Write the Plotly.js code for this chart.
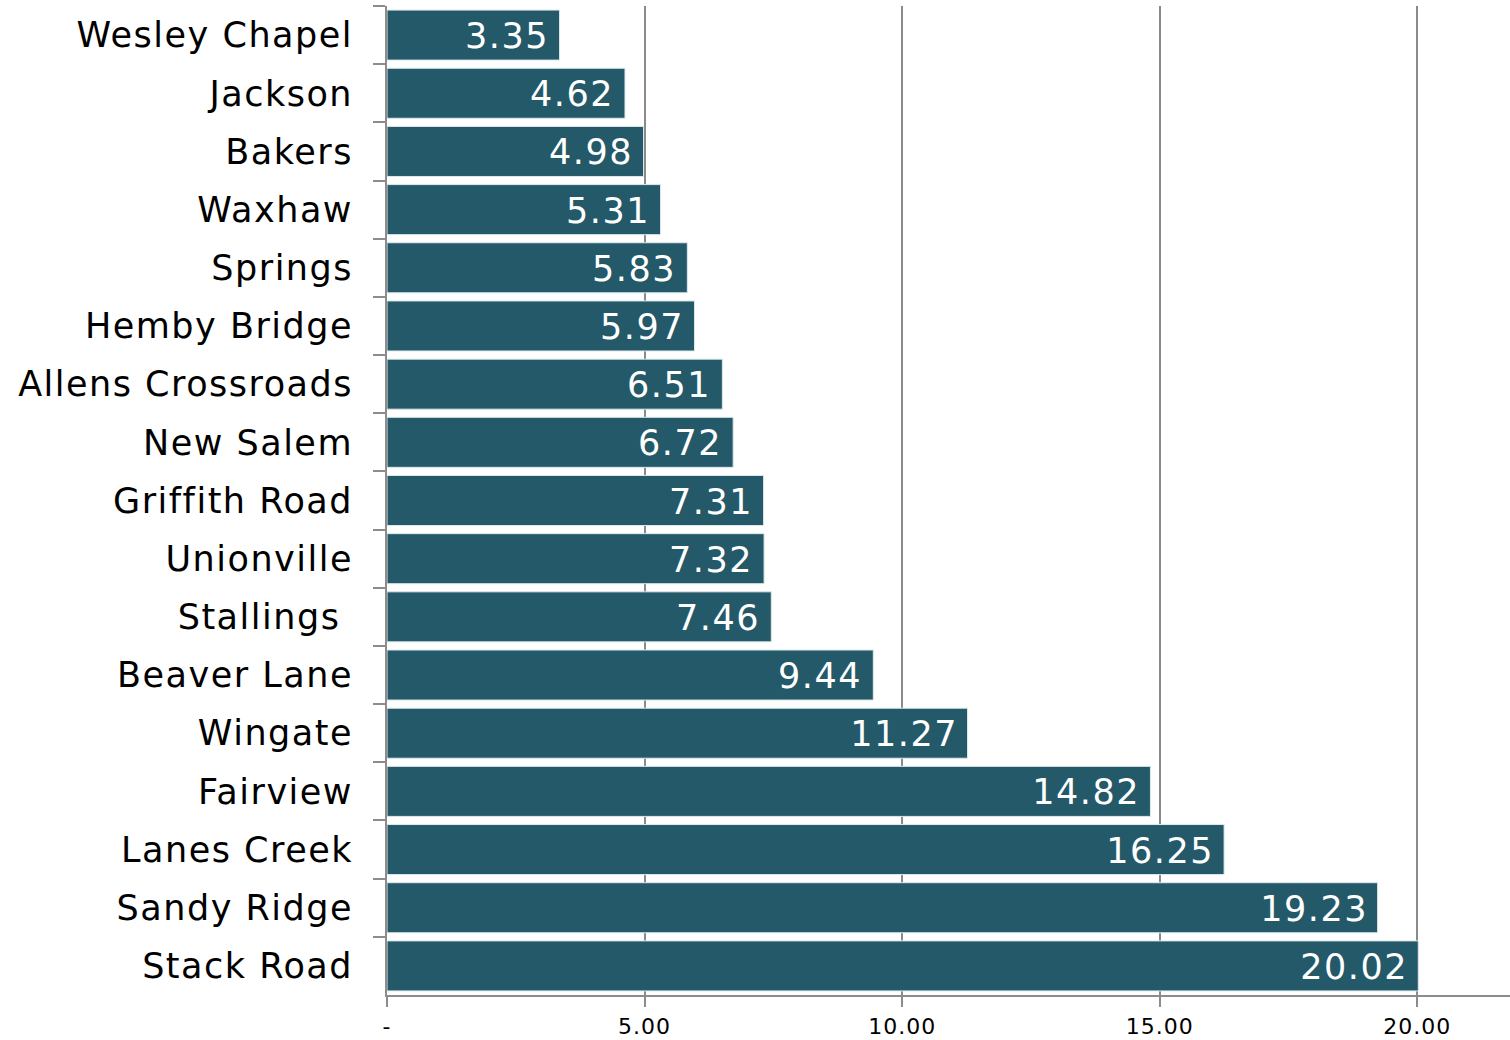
<!DOCTYPE html>
<html>
<head>
<meta charset="utf-8">
<script src="https://cdn.plot.ly/plotly-3.0.1.min.js"></script>
<style>
html,body{margin:0;padding:0;background:#fff;}
#chart{width:1510px;height:1040px;}
#chart .ytick text{letter-spacing:1.5px;}
#chart .xtick text{letter-spacing:1px;}
#chart .annotation-text{letter-spacing:1.5px;}
</style>
</head>
<body>
<div id="chart"></div>
<script>
const categories = ["Wesley Chapel","Jackson","Bakers","Waxhaw","Springs","Hemby Bridge","Allens Crossroads","New Salem","Griffith Road","Unionville","Stallings ","Beaver Lane","Wingate","Fairview","Lanes Creek","Sandy Ridge","Stack Road"];
const values = [3.35,4.62,4.98,5.31,5.83,5.97,6.51,6.72,7.31,7.32,7.46,9.44,11.27,14.82,16.25,19.23,20.02];
const tickValues = [0,5,10,15,20];
const tickLabels = ["-","5.00","10.00","15.00","20.00"];

const FONT = "DejaVu Sans, Verdana, sans-serif";

const trace = {
  type: "bar",
  orientation: "h",
  x: values,
  y: categories,
  marker: {color: "#235968", line: {color: "#dfe9ec", width: 1}},
  hoverinfo: "none"
};

const annotations = values.map((v, i) => ({
  x: v, y: categories[i], xref: "x", yref: "y",
  text: v.toFixed(2),
  showarrow: false,
  xanchor: "right", yanchor: "middle",
  xshift: -12,
  yshift: -1,
  font: {family: FONT, size: 35, color: "#ffffff"}
}));

const layout = {
  width: 1510, height: 1040,
  margin: {l: 387, r: 0, t: 6, b: 45, pad: 0},
  paper_bgcolor: "#ffffff", plot_bgcolor: "#ffffff",
  font: {family: FONT, color: "#000000"},
  bargap: 0.14,
  showlegend: false,
  annotations: annotations,
  xaxis: {
    range: [0, 21.8],
    tickvals: tickValues, ticktext: tickLabels,
    ticks: "outside", ticklen: 10, tickcolor: "#8c8c8c", tickwidth: 2,
    showline: true, linecolor: "#8c8c8c", linewidth: 2,
    showgrid: true, gridcolor: "#8a8a8a", gridwidth: 2,
    zeroline: false,
    tickfont: {size: 22, color: "#000"},
    ticklabelstandoff: 1,
    layer: "below traces"
  },
  yaxis: {
    type: "category",
    categoryorder: "array", categoryarray: categories,
    autorange: "reversed",
    ticks: "outside", tickson: "boundaries", ticklen: 12, tickcolor: "#8c8c8c", tickwidth: 2,
    showline: true, linecolor: "#8c8c8c", linewidth: 2,
    showgrid: false, zeroline: false,
    tickfont: {size: 35, color: "#000"},
    ticklabelstandoff: 25
  }
};

Plotly.newPlot("chart", [trace], layout, {displayModeBar: false, staticPlot: true});
</script>
</body>
</html>
